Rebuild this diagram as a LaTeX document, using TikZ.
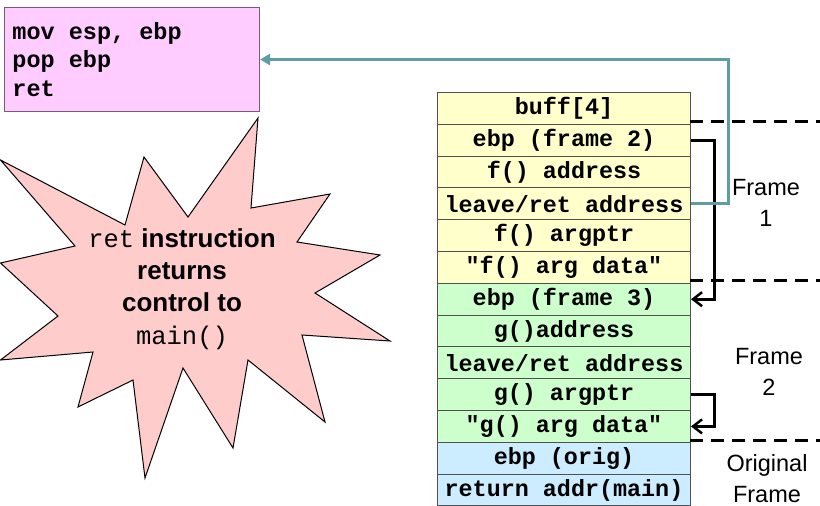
\documentclass[tikz,border=0pt]{standalone}
\usepackage{fontspec}
\setmainfont{Liberation Sans}
\setmonofont{Liberation Mono}
\usetikzlibrary{arrows.meta}

\definecolor{cellyellow}{HTML}{FFFFCC}
\definecolor{cellgreen}{HTML}{CCFFCC}
\definecolor{cellblue}{HTML}{CCECFF}
\definecolor{cellborder}{HTML}{505050}
\definecolor{codepink}{HTML}{FFCCFF}
\definecolor{codeborder}{HTML}{7A5A7A}
\definecolor{burst}{HTML}{FFCCCC}
\definecolor{linkteal}{HTML}{5F9EA0}

\tikzset{
  cell/.style={draw=cellborder, line width=1pt, minimum width=253pt,
    minimum height=31.8pt, inner sep=0pt, anchor=north west,
    font=\ttfamily\bfseries\fontsize{23.4}{26}\selectfont},
  ycell/.style={cell, fill=cellyellow},
  gcell/.style={cell, fill=cellgreen},
  bcell/.style={cell, fill=cellblue},
  ptr/.style={line width=3pt, -{Straight Barb[length=9pt, width=14pt, line width=2.5pt]}},
  retlink/.style={draw=linkteal, line width=3pt, -{Triangle[length=10pt, width=11pt]}},
  divider/.style={line width=3pt, dash pattern=on 12.5pt off 8.5pt},
  framelabel/.style={align=center, inner sep=0pt,
    font=\fontsize{23.5}{30.5}\selectfont}
}

\begin{document}
\begin{tikzpicture}[x=1pt, y=-1pt]
  \useasboundingbox (0,0) rectangle (820,506);

  % epilogue code (font's own interword space, so the columns stay fixed)
  \node[draw=codeborder, fill=codepink, line width=1pt, anchor=north west,
        minimum width=255pt, minimum height=104pt, text width=239pt,
        inner xsep=8pt, align=left,
        font=\ttfamily\bfseries\fontsize{23.5}{28.5}\selectfont]
        (code) at (4,7) {\spaceskip=0pt\relax mov esp, ebp\\pop ebp\\ret};

  % burst
  \draw[fill=burst, line width=1pt, line join=miter]
    (258,118) -- (251,208) -- (330,194) -- (297,242) -- (380,255)
    -- (315,293) -- (390,341) -- (302,335) -- (325,422) -- (248,360)
    -- (233,448) -- (183,368) -- (145,478) -- (133,380) -- (78,407)
    -- (93,352) -- (0.5,360) -- (58,316) -- (0.5,263) -- (75,246)
    -- (0.5,160) -- (125,225) -- (144,157) -- (188,217) -- cycle;
  \node[align=center, inner sep=0pt,
        font=\bfseries\fontsize{26}{32.3}\selectfont] (bursttext) at (182,289)
    {\spaceskip=0pt\relax
     {\mdseries\ttfamily\fontsize{25.5}{32.3}\selectfont ret} instruction\\
     returns\\control to\\
     {\mdseries\ttfamily\fontsize{25.5}{32.3}\selectfont main()}};

  % stack cells
  \node[ycell] (r0)  at (437,92.0)  {buff[4]};
  \node[ycell] (r1)  at (437,123.8) {ebp (frame 2)};
  \node[ycell] (r2)  at (437,155.6) {f() address};
  \node[ycell] (r3)  at (437,187.4) {leave/ret address};
  \node[ycell] (r4)  at (437,219.2) {f() argptr};
  \node[ycell] (r5)  at (437,251.0) {"f() arg data"};
  \node[gcell] (r6)  at (437,282.8) {ebp (frame 3)};
  \node[gcell] (r7)  at (437,314.6) {g()address};
  \node[gcell] (r8)  at (437,346.4) {leave/ret address};
  \node[gcell] (r9)  at (437,378.2) {g() argptr};
  \node[gcell] (r10) at (437,410.0) {"g() arg data"};
  \node[bcell] (r11) at (437,441.8) {ebp (orig)};
  \node[bcell] (r12) at (437,473.6) {return addr(main)};

  % frame dividers
  \coordinate (d1a) at (690,121);   \coordinate (d1b) at (820,121);
  \coordinate (d2a) at (690,280.5); \coordinate (d2b) at (820,280.5);
  \coordinate (d3a) at (690,440);   \coordinate (d3b) at (820,440);
  \draw[divider] (d1a) -- (d1b);
  \draw[divider] (d2a) -- (d2b);
  \draw[divider] (d3a) -- (d3b);

  % frame labels
  \node[framelabel] (f1) at (766,203)   {Frame\\1};
  \node[framelabel] (f2) at (769,372)   {Frame\\2};
  \node[framelabel] (f0) at (767,478.5) {Original\\Frame};

  % saved frame pointers
  \draw[ptr] (r1.east) -- ++(23,0) |- (r6.east);
  \draw[ptr] (r9.east) -- ++(23,0) |- (r10.east);

  % return address back to the epilogue
  \draw[retlink] (r3.east) -- ++(37.5,0) |- (code.east);
\end{tikzpicture}
\end{document}
